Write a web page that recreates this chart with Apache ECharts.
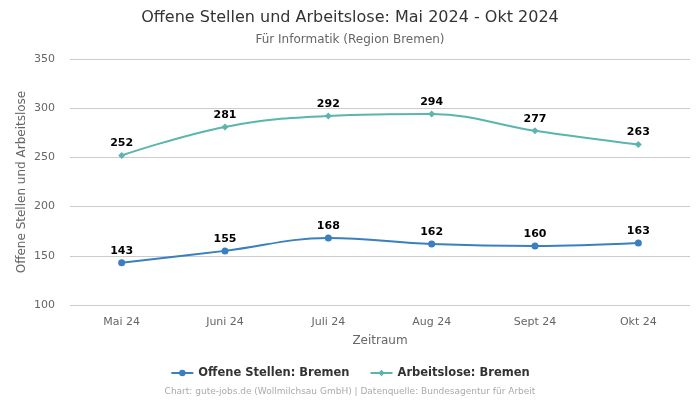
<!DOCTYPE html>
<html><head><meta charset="utf-8">
<script src="https://cdn.jsdelivr.net/npm/echarts@6/dist/echarts.min.js"></script>
<style>html,body{margin:0;padding:0;background:#fff}#c{width:700px;height:400px}</style>
</head><body><div id="c"></div>
<script>
const categories = ['Mai 24','Juni 24','Juli 24','Aug 24','Sept 24','Okt 24'];
const offeneStellen = [143,155,168,162,160,163];
const arbeitslose = [252,281,292,294,277,263];
const yTicks = {min:100, max:350, interval:50};
const F = 'DejaVu Sans';
const chart = echarts.init(document.getElementById('c'));
chart.setOption({
  animation:false,
  textStyle:{fontFamily:F},
  title:[{text:'Offene Stellen und Arbeitslose: Mai 2024 - Okt 2024',left:'center',top:5,
    textStyle:{fontSize:16,fontWeight:'normal',color:'#333',fontFamily:F}},
    {text:'Für Informatik (Region Bremen)',left:'center',top:29,textStyle:{fontSize:12,fontWeight:'normal',color:'#666',fontFamily:F}},
    {text:'Chart: gute-jobs.de (Wollmilchsau GmbH) | Datenquelle: Bundesagentur für Arbeit',left:'center',top:387,padding:0,textStyle:{fontSize:9,fontWeight:'normal',color:'#aaa',fontFamily:F}}],
  grid:{left:70,right:10,top:59,bottom:95},
  legend:{itemGap:20,textStyle:{fontSize:11.5,fontWeight:'bold',color:'#333'},itemWidth:22,itemHeight:8,
    top:362,
    data:['Offene Stellen: Bremen','Arbeitslose: Bremen']},
  xAxis:{type:'category',data:categories,boundaryGap:true,name:'Zeitraum',nameLocation:'middle',nameGap:30,
    nameMoveOverlap:false,
    nameTextStyle:{color:'#666',fontSize:12},
    axisLine:{show:false},axisTick:{show:false},axisLabel:{color:'#666',fontSize:11,margin:12}},
  yAxis:{type:'value',min:yTicks.min,max:yTicks.max,interval:yTicks.interval,name:'Offene Stellen und Arbeitslose',
    nameLocation:'middle',nameGap:42,nameMoveOverlap:false,nameTextStyle:{color:'#666',fontSize:12},
    axisLabel:{color:'#666',fontSize:11,margin:15},splitLine:{lineStyle:{color:'#ccc'}}},
  series:[
    {name:'Offene Stellen: Bremen',type:'line',data:offeneStellen,smooth:0.4,symbol:'circle',symbolSize:7,
      itemStyle:{color:'#3a7fbe'},lineStyle:{width:2},
      label:{show:true,position:'top',fontWeight:'bold',fontSize:11,color:'#000',distance:3}},
    {name:'Arbeitslose: Bremen',type:'line',data:arbeitslose,smooth:0.4,symbol:'diamond',symbolSize:7,
      itemStyle:{color:'#5ab5ad'},lineStyle:{width:2},
      label:{show:true,position:'top',fontWeight:'bold',fontSize:11,color:'#000',distance:3}}
  ]
});
</script></body></html>
